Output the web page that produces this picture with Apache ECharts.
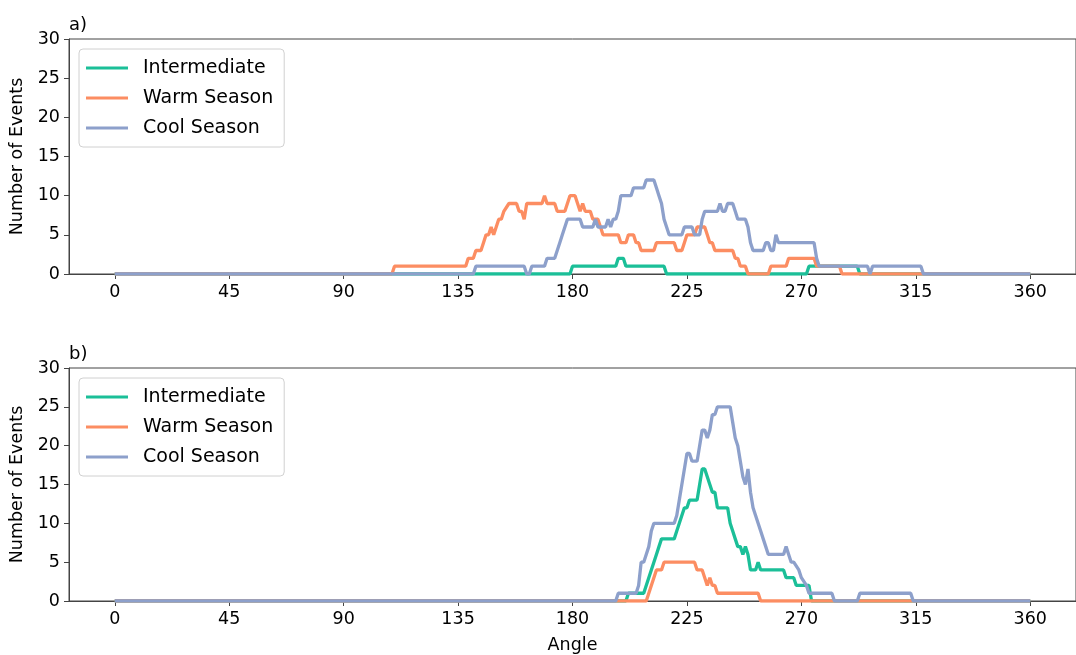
<!DOCTYPE html>
<html>
<head>
<meta charset="utf-8">
<script src="https://cdn.jsdelivr.net/npm/echarts@6/dist/echarts.min.js"></script>
<style>
  html, body { margin: 0; padding: 0; background: #fff; }
  #chart { width: 1076px; height: 655px; }
</style>
</head>
<body>
<div id="chart"></div>
<script>
// tick positions on the angle axis
const angleTicks = [0, 45, 90, 135, 180, 225, 270, 315, 360];
const seriesNames = ["Intermediate", "Warm Season", "Cool Season"];

// panel a) [angle, number of events]
const aIntermediate = [[0,0],[179,0],[180,1],[197,1],[198,2],[200,2],[201,1],[216,1],[217,0],
  [272,0],[273,1],[292,1],[293,0],[360,0]];
const aWarm = [[0,0],[109,0],[110,1],[138,1],[139,2],[141,2],[142,3],[144,3],[145,4],[146,5],
  [147,5],[148,6],[149,5],[150,6],[151,7],[152,7],[153,8],[155,9],[158,9],[159,8],[160,8],
  [161,7],[162,9],[168,9],[169,10],[170,9],[173,9],[174,8],[177,8],[178,9],[179,10],[181,10],
  [182,9],[183,8],[184,9],[185,8],[187,8],[188,7],[190,7],[191,6],[192,5],[198,5],[199,4],
  [201,4],[202,5],[204,5],[205,4],[206,4],[207,3],[212,3],[213,4],[220,4],[221,3],[223,3],
  [224,4],[225,5],[228,5],[229,6],[232,6],[233,5],[234,4],[235,4],[236,3],[243,3],[244,2],
  [245,2],[246,1],[248,1],[249,0],[257,0],[258,1],[264,1],[265,2],[275,2],[276,1],[285,1],
  [286,0],[360,0]];
const aCool = [[0,0],[141,0],[142,1],[161,1],[162,0],[163,0],[164,1],[169,1],[170,2],[173,2],
  [174,3],[175,4],[176,5],[177,6],[178,7],[183,7],[184,6],[188,6],[189,7],[190,6],[193,6],
  [194,7],[195,6],[196,7],[197,7],[198,8],[199,10],[203,10],[204,11],[208,11],[209,12],
  [212,12],[213,11],[214,10],[215,9],[216,7],[217,6],[218,5],[223,5],[224,6],[227,6],[228,5],
  [230,5],[231,7],[232,8],[237,8],[238,9],[239,8],[240,8],[241,9],[243,9],[244,8],[245,7],
  [248,7],[249,6],[250,4],[251,3],[255,3],[256,4],[257,4],[258,3],[259,3],[260,5],[261,4],
  [275,4],[276,2],[277,1],[296,1],[297,0],[298,1],[317,1],[318,0],[360,0]];

// panel b)
const bIntermediate = [[0,0],[201,0],[202,1],[208,1],[209,2],[210,3],[211,4],[212,5],[213,6],
  [214,7],[215,8],[220,8],[221,9],[222,10],[223,11],[224,12],[225,12],[226,13],[229,13],
  [230,15],[231,17],[232,17],[233,16],[234,15],[235,14],[236,14],[237,12],[241,12],[242,10],
  [243,9],[244,8],[245,7],[246,7],[247,6],[248,7],[249,6],[250,4],[252,4],[253,5],[254,4],
  [263,4],[264,3],[267,3],[268,2],[273,2],[274,0],[360,0]];
const bWarm = [[0,0],[209,0],[210,1],[211,2],[212,3],[213,4],[215,4],[216,5],[228,5],[229,4],
  [231,4],[232,3],[233,2],[234,3],[235,2],[236,2],[237,1],[253,1],[254,0],[360,0]];
const bCool = [[0,0],[197,0],[198,1],[205,1],[206,2],[207,5],[208,5],[209,6],[210,7],[211,9],
  [212,10],[220,10],[221,11],[222,13],[223,15],[224,17],[225,19],[226,19],[227,18],[229,18],
  [230,20],[231,22],[232,22],[233,21],[234,22],[235,24],[236,24],[237,25],[242,25],[243,23],
  [244,21],[245,20],[246,18],[247,16],[248,15],[249,17],[250,14],[251,12],[252,11],[253,10],
  [254,9],[255,8],[256,7],[257,6],[263,6],[264,7],[265,6],[266,5],[267,5],[269,4],[270,3],
  [272,2],[273,1],[282,1],[283,0],[292,0],[293,1],[313,1],[314,0],[360,0]];

const colors = ["#1bbf98", "#fc8d62", "#8da0cb"];
const font = "DejaVu Sans";
const axisColor = "#444";

let chart = echarts.init(document.getElementById("chart"));

function xAxis(idx, withName) {
  return {
    type: "value",
    gridIndex: idx,
    min: -18,
    max: 378,
    name: withName ? "Angle" : "",
    nameLocation: "middle",
    nameGap: 35,
    nameTextStyle: { fontFamily: font, fontSize: 17.5, color: "#000" },
    axisLine: { show: true, onZero: false, lineStyle: { color: axisColor, width: 1 } },
    axisTick: { show: true, length: 5, customValues: angleTicks, lineStyle: { color: axisColor } },
    axisLabel: { customValues: angleTicks, fontFamily: font, fontSize: 17.5, color: "#000", margin: 9 },
    splitLine: { show: false }
  };
}

function yAxis(idx) {
  return {
    type: "value",
    gridIndex: idx,
    min: 0,
    max: 30,
    interval: 5,
    name: "Number of Events",
    nameLocation: "middle",
    nameGap: 38,
    nameTextStyle: { fontFamily: font, fontSize: 17.5, color: "#000" },
    axisLine: { show: true, onZero: false, lineStyle: { color: axisColor, width: 1 } },
    axisTick: { show: true, length: 5, lineStyle: { color: axisColor } },
    axisLabel: { fontFamily: font, fontSize: 17.5, color: "#000", margin: 9 },
    splitLine: { show: false }
  };
}

function legend(top) {
  return {
    data: seriesNames,
    orient: "vertical",
    left: 79,
    top: top,
    icon: "rect",
    itemWidth: 42,
    itemHeight: 3,
    itemGap: 8,
    padding: [8, 11, 8, 7],
    backgroundColor: "rgba(255,255,255,0.8)",
    borderColor: "#d0d0d0",
    borderWidth: 1,
    borderRadius: 4,
    textStyle: { fontFamily: font, fontSize: 19, color: "#000", lineHeight: 22, padding: [0, 0, 0, 10] }
  };
}

function lines(idx, data) {
  return data.map((d, i) => ({
    name: seriesNames[i],
    type: "line",
    xAxisIndex: idx,
    yAxisIndex: idx,
    data: d,
    showSymbol: false,
    color: colors[i],
    lineStyle: { width: 3.3, color: colors[i] },
    z: 2 + i
  }));
}

chart.setOption({
  animation: false,
  title: [
    { text: "a)", left: 69, top: 16, padding: 0, textStyle: { fontFamily: font, fontSize: 18, fontWeight: "normal", color: "#000" } },
    { text: "b)", left: 69, top: 345, padding: 0, textStyle: { fontFamily: font, fontSize: 18, fontWeight: "normal", color: "#000" } }
  ],
  grid: [
    { left: 69, right: -12, top: 39, height: 235, show: true, borderColor: axisColor, borderWidth: 1 },
    { left: 69, right: -12, top: 368, height: 234, show: true, borderColor: axisColor, borderWidth: 1 }
  ],
  legend: [legend(49), legend(378)],
  xAxis: [xAxis(0, false), xAxis(1, true)],
  yAxis: [yAxis(0), yAxis(1)],
  series: lines(0, [aIntermediate, aWarm, aCool]).concat(lines(1, [bIntermediate, bWarm, bCool]))
});
</script>
</body>
</html>
